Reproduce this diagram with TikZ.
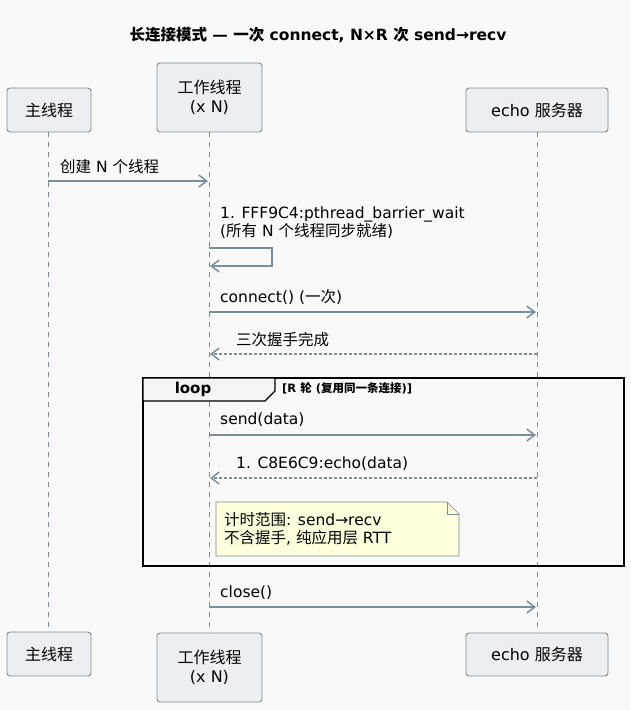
\documentclass[tikz,border=0pt]{standalone}
\usepackage{fontspec}
\setmainfont{DejaVu Sans}
\newfontfamily\cjk{Noto Sans CJK SC}
\newcommand{\zh}[1]{{\cjk #1}}
\usetikzlibrary{arrows.meta}
\definecolor{bg}{HTML}{F9F9F9}
\definecolor{pbox}{HTML}{ECEFF1}
\definecolor{pline}{HTML}{7A8C98}
\definecolor{arr}{HTML}{78909C}
\definecolor{notec}{HTML}{FFFFDD}
\begin{document}
\begin{tikzpicture}[x=1pt,y=-1pt,
  part/.style={draw=pline,line width=0.9pt,fill=pbox,rounded corners=3pt,font=\fontsize{16}{19}\selectfont,align=center,inner sep=0pt},
  life/.style={pline,dash pattern=on 5pt off 5pt,line width=0.7pt},
  msg/.style={arr,line width=1.5pt,-{Straight Barb[length=8pt,width=12pt,line width=1.5pt]}},
  rmsg/.style={msg,dash pattern=on 3pt off 2pt},
  lbl/.style={font=\fontsize{15.5}{18}\selectfont,anchor=west,inner sep=0pt,align=left}]
\useasboundingbox (0,0) rectangle (630,710);
\fill[bg] (0,0) rectangle (630,710);
\node[font=\bfseries\fontsize{15.5}{18}\selectfont] (title) at (318,35) {\zh{长连接模式} — \zh{一次} connect, N×R \zh{次} send→recv};
\draw[life] (48,132) -- (48,632);
\draw[life] (209,132) -- (209,632);
\draw[life] (537,132) -- (537,632);
\node[part,minimum width=84pt,minimum height=44pt] (m1) at (49,110) {\zh{主线程}};
\node[part,minimum width=105pt,minimum height=69pt] (w1) at (209.5,97.5) {\zh{工作线程}\\(x N)};
\node[part,minimum width=142pt,minimum height=44pt] (e1) at (537,110) {echo \zh{服务器}};
\node[part,minimum width=84pt,minimum height=44pt] (m2) at (49,654) {\zh{主线程}};
\node[part,minimum width=105pt,minimum height=69pt] (w2) at (209.5,667.5) {\zh{工作线程}\\(x N)};
\node[part,minimum width=142pt,minimum height=43pt] (e2) at (537,654.5) {echo \zh{服务器}};
\coordinate (a1) at (48,181); \coordinate (b1) at (208,181);
\draw[msg] (a1) -- (b1);
\node[lbl] (l1) at (60,167) {\zh{创建} N \zh{个线程}};
\node[lbl] (l2) at (220,223) {1. FFF9C4:pthread\_barrier\_wait\\(\zh{所有} N \zh{个线程同步就绪})};
\coordinate (s1) at (209,248); \coordinate (s2) at (272,248); \coordinate (s3) at (272,266); \coordinate (s4) at (210,266);
\draw[msg] (s1) -- (s2) -- (s3) -- (s4);
\coordinate (c1) at (209,312); \coordinate (c2) at (536,312);
\draw[msg] (c1) -- (c2);
\node[lbl] (l3) at (220,297) {connect() (\zh{一次})};
\coordinate (h1) at (537,354); \coordinate (h2) at (210,354);
\draw[rmsg] (h1) -- (h2);
\node[lbl] (l4) at (236,340) {\zh{三次握手完成}};
\draw[line width=2pt] (143,378) rectangle (624,566);
\draw[line width=1.2pt,fill=pbox!50!bg] (143,378) -- (275,378) -- (275,391) -- (265,401) -- (143,401) -- cycle;
\node[font=\bfseries\fontsize{15}{18}\selectfont] (lp) at (193,389) {loop};
\node[lbl,font=\bfseries\fontsize{11.5}{14}\selectfont] (lpl) at (282,388) {[R \zh{轮} (\zh{复用同一条连接})]};
\coordinate (d1) at (209,435); \coordinate (d2) at (536,435);
\draw[msg] (d1) -- (d2);
\node[lbl] (l5) at (220,420) {send(data)};
\coordinate (r1) at (537,478); \coordinate (r2) at (210,478);
\draw[rmsg] (r1) -- (r2);
\node[lbl] (l6) at (236,464) {1. C8E6C9:echo(data)};
\draw[pline,fill=notec,line width=0.7pt] (216,502) -- (447,502) -- (459,514) -- (459,556) -- (216,556) -- cycle;
\draw[pline,line width=0.7pt] (447,502) -- (447,514) -- (459,514);
\node[lbl] (n1) at (224,529) {\zh{计时范围}: send→recv\\\zh{不含握手}, \zh{纯应用层} RTT};
\coordinate (x1) at (209,607); \coordinate (x2) at (536,607);
\draw[msg] (x1) -- (x2);
\node[lbl] (l7) at (220,593) {close()};
\end{tikzpicture}
\end{document}
